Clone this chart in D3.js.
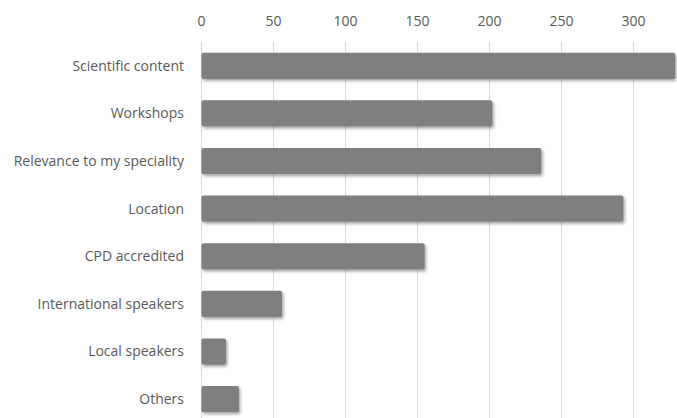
<!DOCTYPE html>
<html>
<head>
<meta charset="utf-8">
<script src="https://cdn.jsdelivr.net/npm/d3@7"></script>
<style>
  body { margin: 0; background: #fff; }
  text { font-family: 'Open Sans', sans-serif; fill: #595959; }
</style>
</head>
<body>
<div id="chart"></div>
<script>
const categories = ['Scientific content', 'Workshops', 'Relevance to my speciality', 'Location',
  'CPD accredited', 'International speakers', 'Local speakers', 'Others'];
const counts = [329, 202, 236, 293, 155, 56, 17, 26];
const tickValues = [0, 50, 100, 150, 200, 250, 300];

const W = 677, H = 418;
const margin = { t: 42, l: 201.5 };

const svg = d3.select('#chart').append('svg')
  .attr('width', W)
  .attr('height', H);

const defs = svg.append('defs');
const shadow = defs.append('filter')
  .attr('id', 'shadow')
  .attr('x', '-5%').attr('y', '-30%')
  .attr('width', '115%').attr('height', '180%');
shadow.append('feDropShadow')
  .attr('dx', 1.5).attr('dy', 2)
  .attr('stdDeviation', 1.6)
  .attr('flood-color', '#000')
  .attr('flood-opacity', 0.35);

const x = d3.scaleLinear().domain([0, 300]).range([margin.l, margin.l + 432]);
const y = d3.scaleBand().domain(categories).range([margin.t, 423]).paddingInner(0.45).paddingOuter(0.225);

// gridlines
svg.append('g')
  .selectAll('line')
  .data(tickValues)
  .join('line')
  .attr('x1', d => x(d)).attr('x2', d => x(d))
  .attr('y1', margin.t).attr('y2', H)
  .attr('stroke', '#d9d9d9')
  .attr('stroke-width', 1);

// tick labels at top
svg.append('g')
  .selectAll('text')
  .data(tickValues)
  .join('text')
  .attr('x', d => x(d))
  .attr('y', 25.5)
  .attr('text-anchor', 'middle')
  .style('font-size', '14px')
  .text(d => d);

// bars
svg.append('g')
  .selectAll('rect')
  .data(counts)
  .join('rect')
  .attr('x', x(0))
  .attr('y', (d, i) => y(categories[i]))
  .attr('width', d => x(d) - x(0))
  .attr('height', y.bandwidth())
  .attr('rx', 2)
  .attr('fill', '#7f7f7f')
  .attr('filter', 'url(#shadow)');

// category labels
svg.append('g')
  .selectAll('text')
  .data(categories)
  .join('text')
  .attr('x', 184)
  .attr('y', d => y(d) + y.bandwidth() / 2)
  .attr('dy', '0.35em')
  .attr('text-anchor', 'end')
  .style('font-size', '14px')
  .text(d => d);
</script>
</body>
</html>
